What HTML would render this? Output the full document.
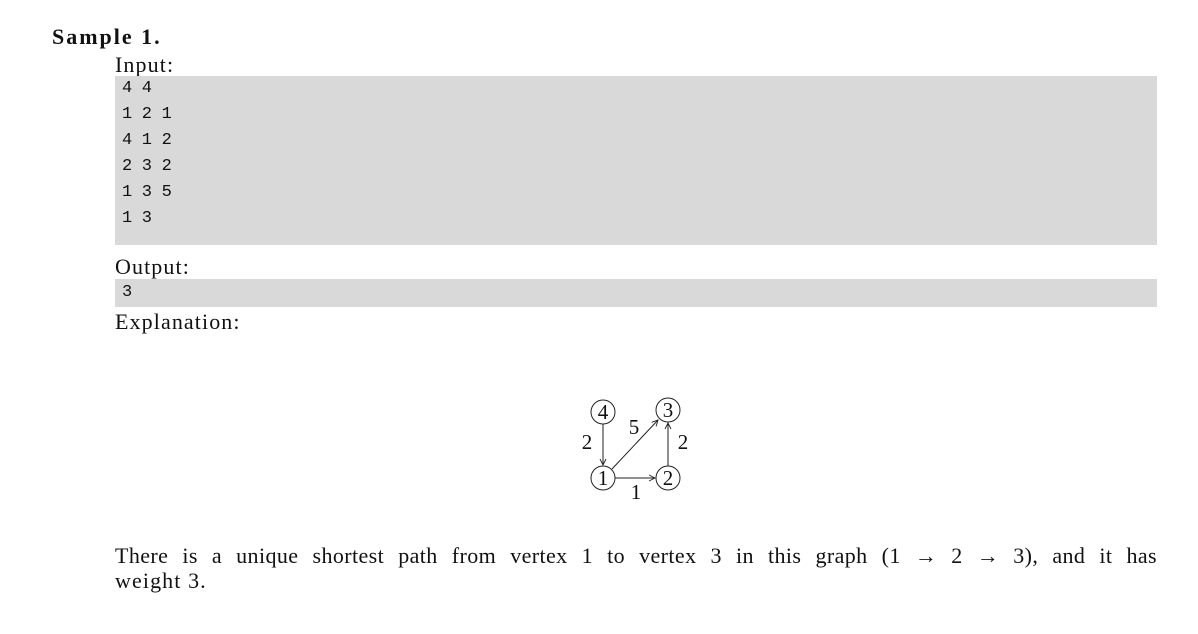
<!DOCTYPE html>
<html><head><meta charset="utf-8"><style>
*{box-sizing:border-box}
body{margin:0;width:1198px;height:634px;background:#fff;position:relative;font-family:"Liberation Serif",serif;color:#111;overflow:hidden}
.a{position:absolute;white-space:nowrap}
.t{font-size:22px;line-height:22px;letter-spacing:1.1px}
.box{position:absolute;left:115px;width:1042px;background:#d9d9d9}
.mono{font-family:"Liberation Mono",monospace;font-size:17px;line-height:26px;padding-left:7px;letter-spacing:-0.3px}
</style></head><body>
<div class="a" style="left:52px;top:26px;font-size:22px;font-weight:bold;line-height:22px;letter-spacing:2px">Sample 1.</div>
<div class="a t" style="left:115px;top:54px">Input:</div>
<div class="box mono" style="top:76px;height:169px">4 4<br>1 2 1<br>4 1 2<br>2 3 2<br>1 3 5<br>1 3</div>
<div class="a t" style="left:115px;top:256px">Output:</div>
<div class="box mono" style="top:279px;height:28px;line-height:28px">3</div>
<div class="a t" style="left:115px;top:311px">Explanation:</div>
<svg class="a" style="left:0;top:0" width="1198" height="634">
<defs><marker id="ar" markerWidth="8" markerHeight="8" refX="7" refY="4" orient="auto" markerUnits="userSpaceOnUse"><path d="M1,1 L7,4 L1,7" fill="none" stroke="#222" stroke-width="0.9"/></marker></defs>
<g stroke="#222" stroke-width="1" fill="none">
<circle cx="603" cy="412" r="12"/><circle cx="668" cy="410" r="12"/>
<circle cx="603" cy="478" r="12"/><circle cx="668" cy="478" r="12"/>
<line x1="603" y1="424" x2="603" y2="465" marker-end="url(#ar)"/>
<line x1="615" y1="478" x2="655" y2="478" marker-end="url(#ar)"/>
<line x1="668" y1="466" x2="668" y2="423" marker-end="url(#ar)"/>
<line x1="612" y1="469" x2="658" y2="420" marker-end="url(#ar)"/>
</g>
<g font-family="Liberation Serif,serif" font-size="21" fill="#111" text-anchor="middle">
<text x="603" y="419">4</text><text x="668" y="417">3</text>
<text x="603" y="485">1</text><text x="668" y="485">2</text>
<text x="587" y="449">2</text><text x="634" y="434">5</text>
<text x="683" y="449">2</text><text x="636" y="499">1</text>
</g></svg>
<div class="a" style="left:115px;top:543px;width:1042px;font-size:22px;line-height:25px;text-align:justify;text-align-last:justify;white-space:normal;letter-spacing:0.4px">There is a unique shortest path from vertex 1 to vertex 3 in this graph (1 &rarr; 2 &rarr; 3), and it has</div>
<div class="a" style="left:115px;top:568px;font-size:22px;line-height:25px;letter-spacing:1.1px">weight 3.</div>
</body></html>
